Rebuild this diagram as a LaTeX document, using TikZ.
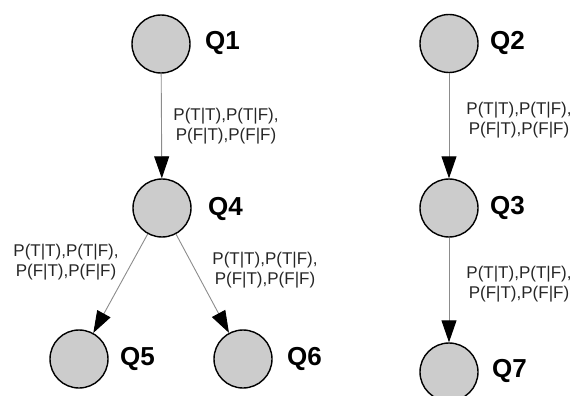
\documentclass[tikz,border=0pt]{standalone}
\usepackage{fontspec}
\setmainfont{Liberation Sans}
\usetikzlibrary{arrows.meta}
\begin{document}
\begin{tikzpicture}[x=1pt,y=-1pt,
  var/.style={circle,draw=black,line width=1.4pt,fill=black!20,minimum size=58pt,inner sep=0pt},
  qlab/.style={anchor=west,font=\fontsize{26}{28}\selectfont\bfseries,inner sep=0pt},
  plab/.style={align=center,font=\fontsize{17}{20}\selectfont,text=black!85,inner sep=0pt},
  edge/.style={draw=black!45,line width=0.9pt,-{Triangle[length=22pt,width=15pt,color=black]}}]
\useasboundingbox (0,0) rectangle (571,396);
\begin{scope}
\clip (0,0) rectangle (571,396);
\node[var] (q1) at (161,44) {};
\node[var] (q4) at (162,208) {};
\node[var] (q5) at (79,359) {};
\node[var] (q6) at (243,359) {};
\node[var] (q2) at (449,43.5) {};
\node[var] (q3) at (449,208) {};
\node[var] (q7) at (449,372) {};
\end{scope}
\node[qlab] (l1) at (205,43) {Q1};
\node[qlab] (l4) at (208,208.5) {Q4};
\node[qlab] (l5) at (120,359) {Q5};
\node[qlab] (l6) at (287,359) {Q6};
\node[qlab] (l2) at (490,43) {Q2};
\node[qlab] (l3) at (490,208) {Q3};
\node[qlab] (l7) at (492,371) {Q7};
\draw[edge] (q1) -- (q4);
\draw[edge] (q4) -- (q5);
\draw[edge] (q4) -- (q6);
\draw[edge] (q2) -- (q3);
\draw[edge] (q3) -- (q7);
\node[plab] (p14) at (226,126) {P(T|T),P(T|F),\\P(F|T),P(F|F)};
\node[plab] (p45) at (66,262) {P(T|T),P(T|F),\\P(F|T),P(F|F)};
\node[plab] (p46) at (265,270) {P(T|T),P(T|F),\\P(F|T),P(F|F)};
\node[plab] (p23) at (519,120) {P(T|T),P(T|F),\\P(F|T),P(F|F)};
\node[plab] (p37) at (519,284) {P(T|T),P(T|F),\\P(F|T),P(F|F)};
\end{tikzpicture}
\end{document}
